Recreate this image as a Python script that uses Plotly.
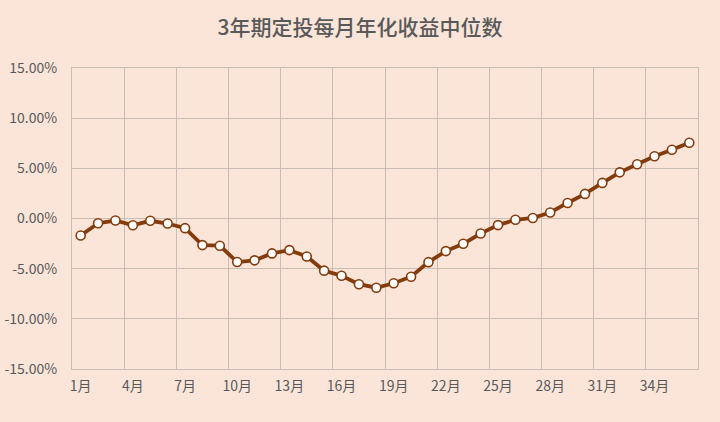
import plotly.graph_objects as go

months = list(range(1, 37))
values = [-1.7, -0.47, -0.2, -0.67, -0.23, -0.5, -0.96, -2.65, -2.71, -4.34,
          -4.17, -3.48, -3.15, -3.78, -5.2, -5.7, -6.55, -6.9, -6.45, -5.8,
          -4.35, -3.25, -2.52, -1.5, -0.66, -0.13, 0.05, 0.6, 1.55, 2.45,
          3.55, 4.6, 5.4, 6.2, 6.85, 7.55]
tick_vals = list(range(1, 37, 3))
tick_text = [f"{m}月" for m in tick_vals]
y_ticks = [-15, -10, -5, 0, 5, 10, 15]

bg = "#FBE5D9"
grid = "#C9BDB6"
text_col = "#595959"
line_col = "#843C0C"

fig = go.Figure()
fig.add_trace(go.Scatter(
    x=months, y=values, mode="lines+markers",
    line=dict(color=line_col, width=3.8),
    marker=dict(size=9, color="white", line=dict(color=line_col, width=1.6)),
    hoverinfo="skip", showlegend=False,
))

fig.update_layout(
    width=720, height=422,
    paper_bgcolor=bg, plot_bgcolor=bg,
    margin=dict(l=72, r=22, t=68, b=53, autoexpand=False),
    font=dict(family="Noto Sans CJK SC", color=text_col, size=13),
    title=dict(text="3年期定投每月年化收益中位数", x=0.5, xanchor="center",
               y=0.935, yanchor="middle",
               font=dict(size=21, color=text_col, family="Noto Sans CJK SC", weight=500)),
)
fig.update_xaxes(
    range=[0.5, 36.5], tickvals=tick_vals, ticktext=tick_text,
    showgrid=False, zeroline=False, automargin=False,
    showline=True, mirror=True, linecolor=grid, linewidth=1,
    ticks="outside", ticklen=4, tickcolor="rgba(0,0,0,0)",
    minor=dict(tick0=0.5, dtick=3, showgrid=True, gridcolor=grid, gridwidth=1, ticks=""),
    tickfont=dict(size=14, color=text_col),
)
fig.update_yaxes(
    range=[-15, 15], tickvals=y_ticks, ticktext=[f"{v:.2f}%" for v in y_ticks],
    showgrid=True, gridcolor=grid, gridwidth=1, zeroline=False, automargin=False,
    showline=True, mirror=True, linecolor=grid, linewidth=1,
    ticks="outside", ticklen=11, tickcolor="rgba(0,0,0,0)",
    tickfont=dict(size=14, color=text_col),
)

fig.write_html(
    "out.html",
    config={"displayModeBar": False},
    post_script="document.body.style.margin='0';document.body.style.background='%s';" % bg,
)
